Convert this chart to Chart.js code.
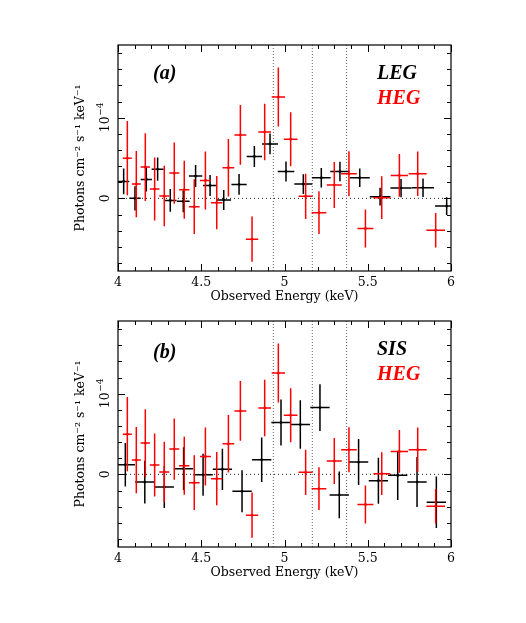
<!DOCTYPE html>
<html><head><meta charset="utf-8">
<script src="https://cdn.jsdelivr.net/npm/chart.js@4/dist/chart.umd.min.js"></script>
<style>
html,body{margin:0;padding:0;background:#fff;}
.wrap{position:absolute;left:0;width:526px;height:310px;}
</style></head><body>
<div class="wrap" style="top:0"><canvas id="c1" width="526" height="310"></canvas></div>
<div class="wrap" style="top:276px"><canvas id="c2" width="526" height="310"></canvas></div>
<script>
// ---- Data (y in units of 1e-5 photons cm^-2 s^-1 keV^-1) ----
const legE    = [4.034,4.102,4.170,4.238,4.314,4.392,4.466,4.553,4.635,4.727,4.819,4.913,5.009,5.113,5.221,5.333,5.452,5.574,5.700,5.832,5.974];
const legDE   = [0.034,0.034,0.034,0.036,0.038,0.038,0.040,0.042,0.044,0.046,0.046,0.048,0.050,0.054,0.056,0.058,0.060,0.062,0.064,0.066,0.070];
const legVal  = [2.10,0.00,2.35,3.62,-0.25,-0.37,2.76,1.60,-0.20,1.73,5.19,6.75,3.33,1.77,2.55,3.33,2.55,0.21,1.28,1.32,-0.95];
const legErr  = [1.60,1.50,1.50,1.45,1.40,1.35,1.36,1.30,1.25,1.28,1.30,1.30,1.25,1.23,1.20,1.20,1.15,1.10,1.13,1.15,1.10];

const hegE    = [4.056,4.110,4.164,4.220,4.278,4.338,4.398,4.458,4.525,4.593,4.663,4.735,4.805,4.881,4.963,5.037,5.127,5.207,5.299,5.387,5.486,5.584,5.690,5.800,5.908];
const hegDE   = [0.027,0.027,0.028,0.029,0.030,0.030,0.031,0.032,0.033,0.034,0.035,0.036,0.037,0.038,0.040,0.041,0.042,0.044,0.045,0.047,0.048,0.050,0.052,0.054,0.056];
const hegVal  = [4.98,1.77,3.87,1.15,0.29,3.13,1.07,-1.03,2.22,-0.53,3.79,7.86,-5.06,8.23,12.55,7.33,0.25,-1.77,1.65,3.05,-3.74,0.08,2.84,3.05,-3.95];
const hegErr  = [4.60,4.10,4.20,3.90,3.75,3.80,3.60,3.40,3.60,3.30,3.55,3.70,2.80,3.50,3.65,3.35,2.80,2.65,2.85,2.80,2.35,2.65,2.65,2.75,2.15];

const sisE    = [4.044,4.161,4.278,4.394,4.511,4.627,4.745,4.863,4.979,5.095,5.213,5.329,5.445,5.564,5.680,5.796,5.912];
const sisDE   = [0.058,0.058,0.058,0.058,0.058,0.058,0.058,0.058,0.058,0.058,0.058,0.058,0.058,0.058,0.058,0.058,0.058];
const sisVal  = [1.19,-0.95,-1.56,0.70,-0.04,0.62,-2.10,1.81,6.42,6.17,8.27,-2.55,1.52,-0.78,-0.12,-0.95,-3.46];
const sisErr  = [2.70,2.65,2.60,2.65,2.60,2.55,2.60,2.75,2.85,3.00,2.90,2.90,2.85,2.85,3.05,3.10,3.20];

const lineE   = [4.933,5.167,5.373];   // vertical dotted markers (keV)
const xTickLabels = [4,4.5,5,5.5,6];
const yMajor  = [0,10];
const xRange  = [4,6];
const yRange  = [-9,19];

const FONT = '"DejaVu Serif", serif';

function pts(e,v){ return e.map((x,i)=>({x:x,y:v[i]})); }

function framePlugin(cfg){
  return {
    id:'frame',
    afterDatasetsDraw(chart){
      const ctx=chart.ctx, a=chart.chartArea, x=chart.scales.x, y=chart.scales.y;
      ctx.save();
      ctx.beginPath(); ctx.rect(a.left,a.top,a.right-a.left,a.bottom-a.top); ctx.clip();
      chart.data.datasets.forEach(ds=>{
        if(!ds.errY) return;
        ctx.strokeStyle=ds.borderColor; ctx.lineWidth=1.5;
        ds.data.forEach((p,i)=>{
          const px=x.getPixelForValue(p.x), py=y.getPixelForValue(p.y);
          ctx.beginPath();
          ctx.moveTo(x.getPixelForValue(p.x-ds.errX[i]),py);
          ctx.lineTo(x.getPixelForValue(p.x+ds.errX[i]),py);
          ctx.moveTo(px,y.getPixelForValue(p.y-ds.errY[i]));
          ctx.lineTo(px,y.getPixelForValue(p.y+ds.errY[i]));
          ctx.stroke();
        });
      });
      ctx.restore();

      ctx.save();
      // frame
      ctx.strokeStyle='#000'; ctx.lineWidth=1.2;
      ctx.strokeRect(a.left,a.top,a.right-a.left,a.bottom-a.top);
      // inner ticks
      ctx.lineWidth=1;
      ctx.beginPath();
      for(let k=0;k<=20;k++){
        const v=xRange[0]+k*0.1, px=Math.round(x.getPixelForValue(v))+0.5;
        const len=(k%5===0)?7:4;
        ctx.moveTo(px,a.bottom); ctx.lineTo(px,a.bottom-len);
        ctx.moveTo(px,a.top); ctx.lineTo(px,a.top+len);
      }
      for(let v=-8; v<=18; v+=2){
        const py=Math.round(y.getPixelForValue(v))+0.5;
        const len=(yMajor.indexOf(v)>=0)?7:4;
        ctx.moveTo(a.left,py); ctx.lineTo(a.left+len,py);
        ctx.moveTo(a.right,py); ctx.lineTo(a.right-len,py);
      }
      ctx.stroke();

      // y tick labels (rotated)
      ctx.fillStyle='#000';
      ctx.textBaseline='middle';
      ctx.save(); ctx.translate(a.left-12,y.getPixelForValue(0)); ctx.rotate(-Math.PI/2);
      ctx.font='12.5px '+FONT; ctx.textAlign='center'; ctx.fillText('0',0,0); ctx.restore();
      ctx.save(); ctx.translate(a.left-12,y.getPixelForValue(10)); ctx.rotate(-Math.PI/2);
      ctx.font='12.5px '+FONT; const w1=ctx.measureText('10').width;
      ctx.font='9px '+FONT; const w2=ctx.measureText('\u22124').width;
      const x0=-(w1+w2)/2;
      ctx.textAlign='left';
      ctx.font='12.5px '+FONT; ctx.fillText('10',x0,0);
      ctx.font='9px '+FONT; ctx.fillText('\u22124',x0+w1+0.5,-5);
      ctx.restore();

      // panel labels
      ctx.font='bold italic 20px "Liberation Serif", serif';
      ctx.textAlign='left'; ctx.textBaseline='middle';
      ctx.fillStyle='#000';
      ctx.fillText(cfg.panel, 153, a.top+cfg.panelDy);
      ctx.fillText(cfg.top, 377, a.top+29);
      ctx.fillStyle='#ff0000';
      ctx.fillText(cfg.bottom, 377, a.top+54);
      ctx.restore();
    }
  };
}

function makeChart(id, blackE, blackDE, blackV, blackErr, cfg){
  const datasets=[];
  lineE.forEach(e=>{
    datasets.push({type:'scatter',showLine:true,data:[{x:e,y:yRange[0]},{x:e,y:yRange[1]}],
      borderColor:'#666',borderWidth:1,borderDash:[1,2],pointRadius:0,order:10});
  });
  datasets.push({type:'scatter',showLine:true,data:[{x:xRange[0],y:0},{x:xRange[1],y:0}],
    borderColor:'#222',borderWidth:1,borderDash:[1,3],pointRadius:0,order:10});
  datasets.push({type:'scatter',label:cfg.top,data:pts(blackE,blackV),errX:blackDE,errY:blackErr,
    borderColor:'#000',backgroundColor:'#000',pointStyle:'rect',pointRadius:1.6,borderWidth:0,order:2});
  datasets.push({type:'scatter',label:'HEG',data:pts(hegE,hegVal),errX:hegDE,errY:hegErr,
    borderColor:'#ff0000',backgroundColor:'#ff0000',pointStyle:'rect',pointRadius:1.6,borderWidth:0,order:1});

  return new Chart(document.getElementById(id),{
    type:'scatter',
    data:{datasets:datasets},
    options:{
      responsive:false, animation:false, devicePixelRatio:1,
      layout:{padding:{top:45,right:75,left:0,bottom:0}},
      plugins:{legend:{display:false},tooltip:{enabled:false}},
      scales:{
        x:{type:'linear',min:xRange[0],max:xRange[1],
          afterFit:s=>{s.height=39;},
          afterBuildTicks:s=>{s.ticks=xTickLabels.map(v=>({value:v}));},
          ticks:{color:'#000',font:{family:FONT,size:12.5},padding:4,maxRotation:0,
            callback:v=>String(v)},
          grid:{display:false,drawTicks:false},border:{display:false},
          title:{display:true,text:'Observed Energy (keV)',color:'#000',font:{family:FONT,size:12.5},padding:{top:0,bottom:6}}
        },
        y:{type:'linear',min:yRange[0],max:yRange[1],
          afterFit:s=>{s.width=118;},
          ticks:{display:false},
          grid:{display:false,drawTicks:false},border:{display:false},
          title:{display:true,text:'Photons cm\u207B\u00B2 s\u207B\u00B9 keV\u207B\u00B9',color:'#000',font:{family:FONT,size:12.5},padding:{top:73,bottom:0}}
        }
      }
    },
    plugins:[framePlugin(cfg)]
  });
}

makeChart('c1', legE, legDE, legVal, legErr, {panel:'(a)',panelDy:29,top:'LEG',bottom:'HEG'});
makeChart('c2', sisE, sisDE, sisVal, sisErr, {panel:'(b)',panelDy:32,top:'SIS',bottom:'HEG'});
</script>
</body></html>
